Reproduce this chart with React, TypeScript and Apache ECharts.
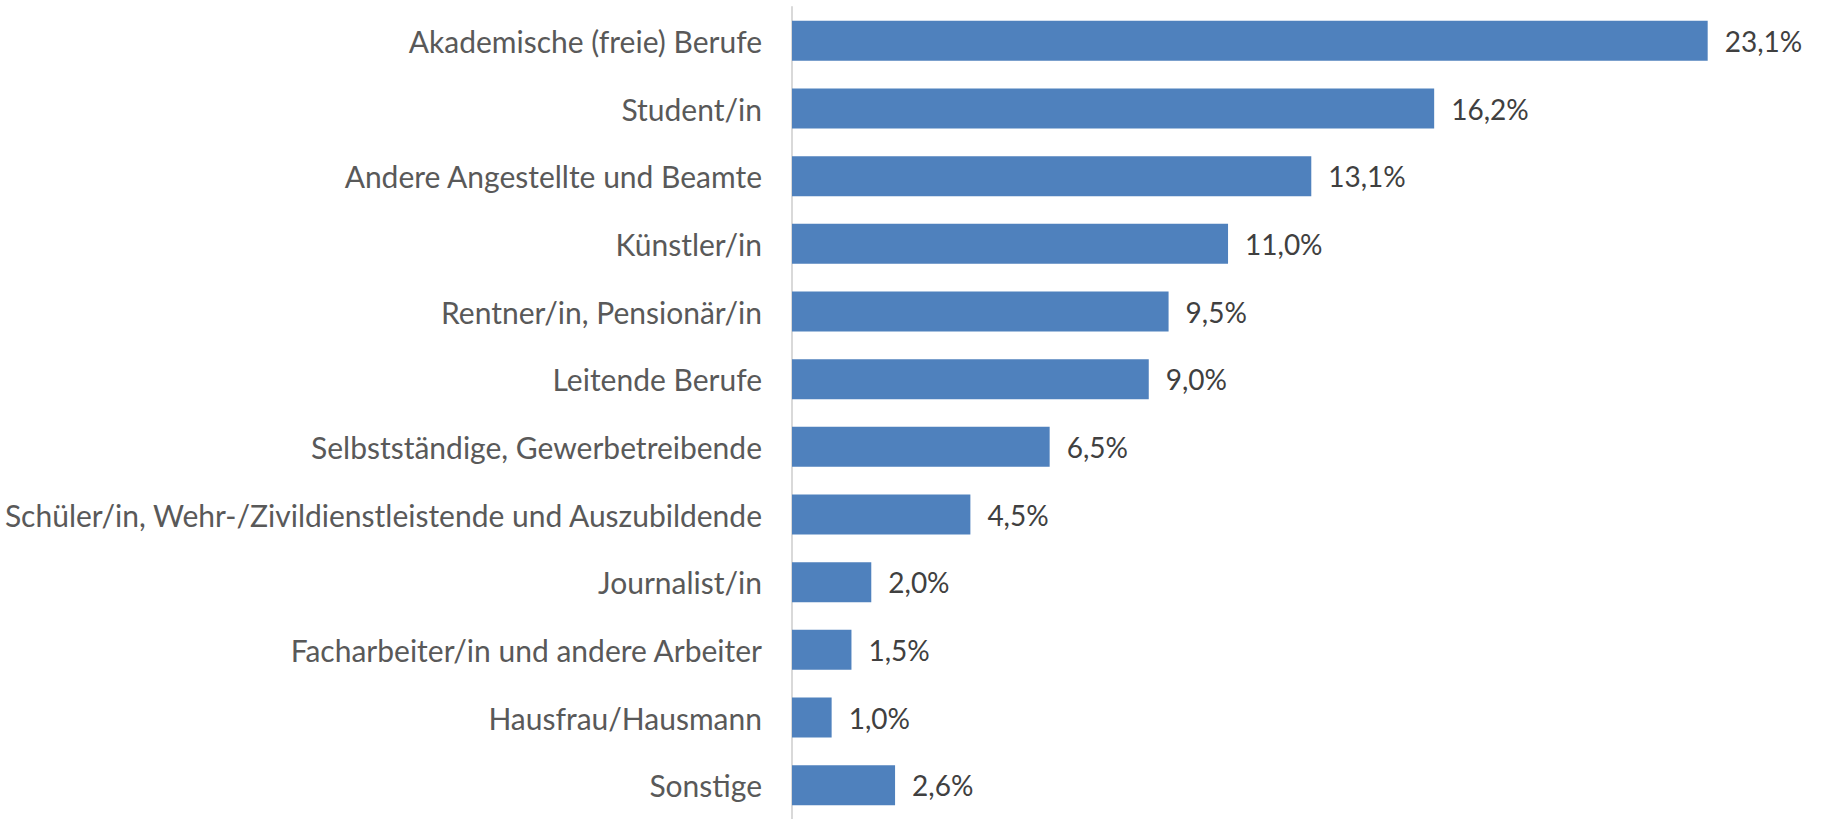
import React, { useEffect, useRef } from "react";
import * as echarts from "echarts";

const categories = [
  "Akademische (freie) Berufe",
  "Student/in",
  "Andere Angestellte und Beamte",
  "Künstler/in",
  "Rentner/in, Pensionär/in",
  "Leitende Berufe",
  "Selbstständige, Gewerbetreibende",
  "Schüler/in, Wehr-/Zivildienstleistende und Auszubildende",
  "Journalist/in",
  "Facharbeiter/in und andere Arbeiter",
  "Hausfrau/Hausmann",
  "Sonstige",
];
const values = [23.1, 16.2, 13.1, 11.0, 9.5, 9.0, 6.5, 4.5, 2.0, 1.5, 1.0, 2.6];

export default function App() {
  const ref = useRef<HTMLDivElement>(null);
  useEffect(() => {
    if (!ref.current) return;
    const chart = echarts.init(ref.current, undefined, { renderer: "svg" });
    chart.setOption({
      animation: false,
      backgroundColor: "#ffffff",
      grid: { left: 792, top: 7, width: 991, height: 818, containLabel: false },
      xAxis: {
        type: "value",
        min: 0,
        max: 25,
        show: false,
      },
      yAxis: {
        type: "category",
        inverse: true,
        data: categories,
        axisLine: { show: true, lineStyle: { color: "#d9d9d9", width: 2 } },
        axisTick: { show: false },
        axisLabel: {
          color: "#595959",
          fontFamily: "Lato",
          fontSize: 30,
          margin: 30,
        },
      },
      series: [
        {
          type: "bar",
          data: values,
          barWidth: 40,
          itemStyle: { color: "#4f81bd" },
          label: {
            show: true,
            position: "right",
            distance: 17,
            color: "#404040",
            fontFamily: "Lato",
            fontSize: 28,
            formatter: (p: any) => p.value.toFixed(1).replace(".", ",") + "%",
          },
        },
      ],
    });
    return () => chart.dispose();
  }, []);
  return (
    <div
      ref={ref}
      style={{ position: "fixed", left: 0, top: 0, width: 1826, height: 819 }}
    />
  );
}
